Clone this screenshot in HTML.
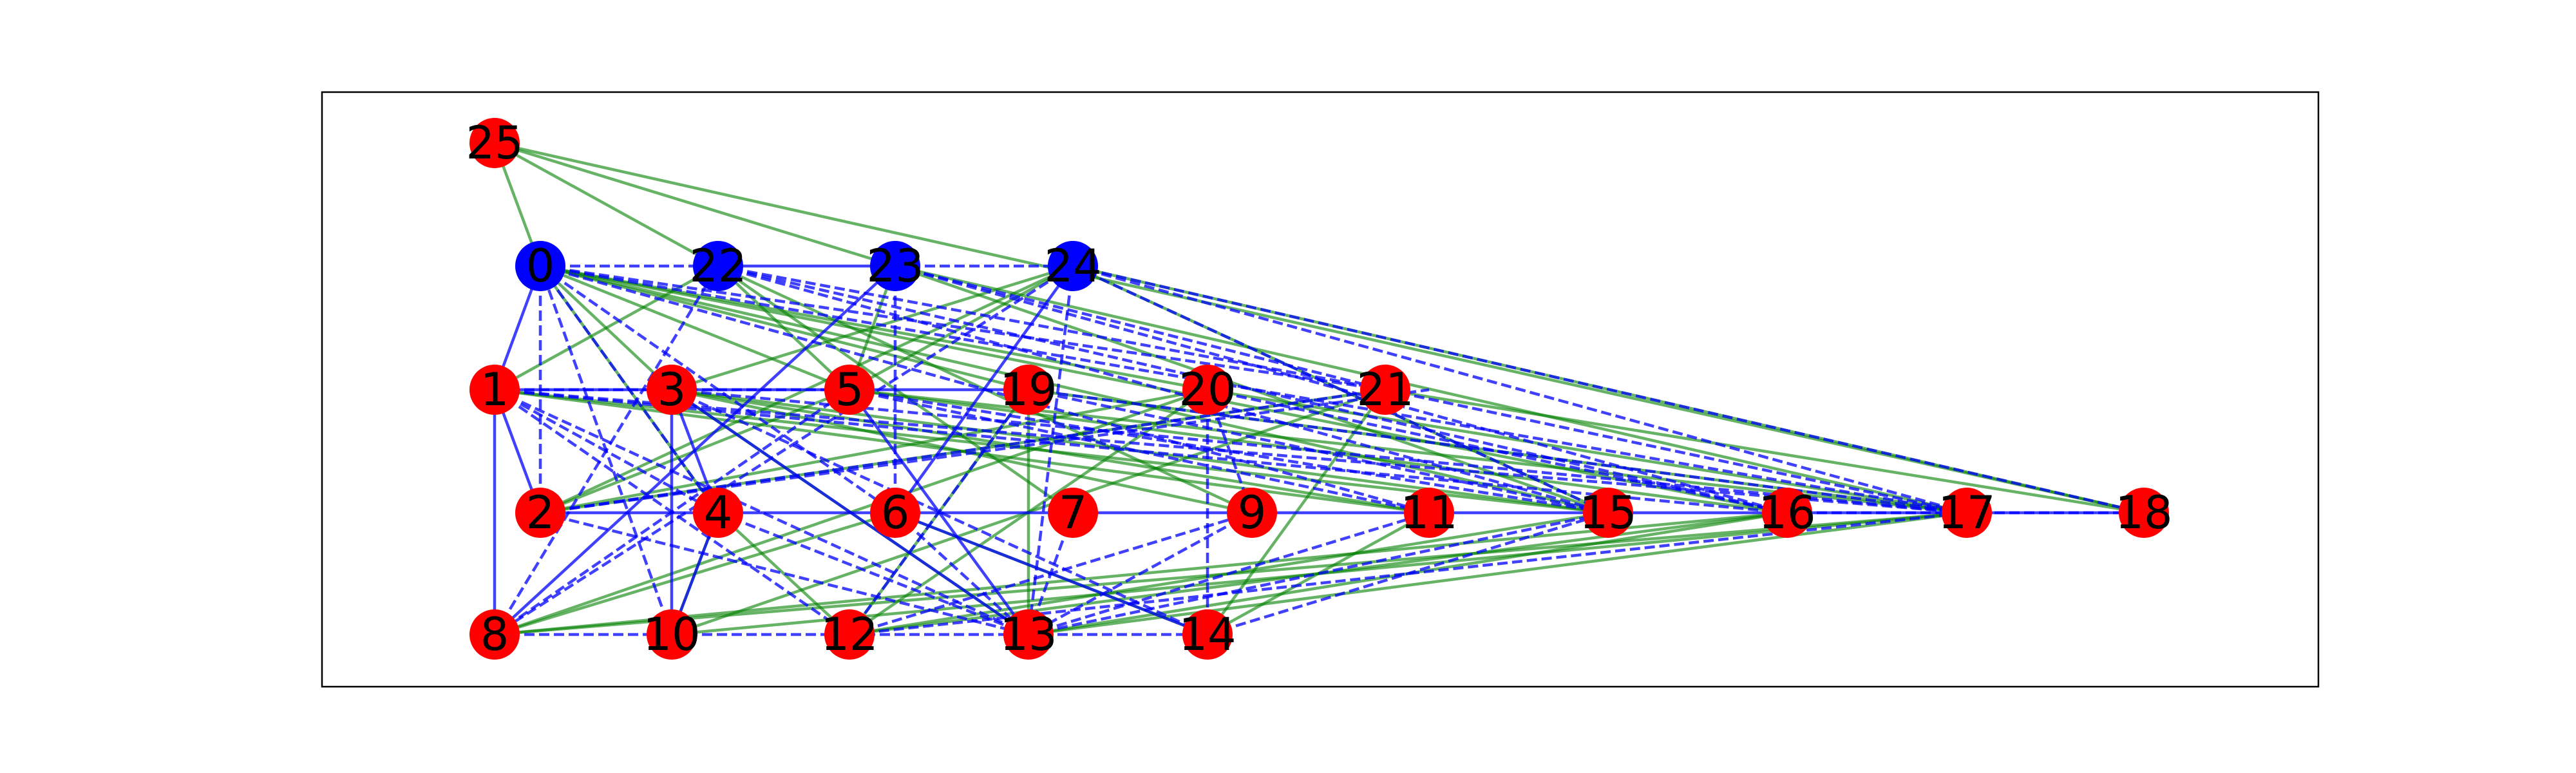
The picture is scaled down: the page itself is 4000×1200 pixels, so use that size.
<!DOCTYPE html>
<html><head><meta charset="utf-8"><style>
html,body{margin:0;padding:0;background:#fff;}
svg{display:block;}
text{font-family:"DejaVu Sans","Liberation Sans",sans-serif;font-size:70px;fill:#000;text-anchor:middle;dominant-baseline:central;}
.g{stroke:#008000;stroke-opacity:0.6;stroke-width:4.5;}
.b{stroke:#0000ff;stroke-opacity:0.75;stroke-width:4.5;}
.d{stroke:#0000ff;stroke-opacity:0.75;stroke-width:4.5;stroke-dasharray:16,7;}
</style></head><body>
<svg width="4000" height="1200" viewBox="0 0 4000 1200" xmlns="http://www.w3.org/2000/svg">
<rect x="0" y="0" width="4000" height="1200" fill="#fff"/>
<rect x="500" y="143" width="3100" height="923" fill="none" stroke="#000" stroke-width="2.5"/>
<g id="edges">
<line class="g" x1="768" y1="222" x2="1115" y2="413"/>
<line class="g" x1="768" y1="222" x2="1390" y2="413"/>
<line class="g" x1="768" y1="222" x2="3329" y2="796"/>
<line class="g" x1="768" y1="222" x2="839" y2="413"/>
<line class="g" x1="1666" y1="413" x2="3329" y2="796"/>
<line class="g" x1="839" y1="413" x2="1043" y2="605"/>
<line class="g" x1="839" y1="413" x2="1319" y2="605"/>
<line class="g" x1="839" y1="413" x2="1597" y2="605"/>
<line class="g" x1="839" y1="413" x2="1875" y2="605"/>
<line class="g" x1="839" y1="413" x2="2497" y2="796"/>
<line class="g" x1="839" y1="413" x2="2775" y2="796"/>
<line class="g" x1="1115" y1="413" x2="1319" y2="605"/>
<line class="g" x1="1115" y1="413" x2="1666" y2="796"/>
<line class="g" x1="1115" y1="413" x2="1944" y2="796"/>
<line class="g" x1="1390" y1="413" x2="2497" y2="796"/>
<line class="g" x1="1390" y1="413" x2="3054" y2="796"/>
<line class="g" x1="1390" y1="413" x2="1319" y2="605"/>
<line class="g" x1="1666" y1="413" x2="1043" y2="605"/>
<line class="g" x1="1666" y1="413" x2="1319" y2="605"/>
<line class="g" x1="1666" y1="413" x2="839" y2="796"/>
<line class="g" x1="768" y1="605" x2="1115" y2="413"/>
<line class="g" x1="768" y1="605" x2="2219" y2="796"/>
<line class="g" x1="768" y1="605" x2="2497" y2="796"/>
<line class="g" x1="1043" y1="605" x2="1944" y2="796"/>
<line class="g" x1="1043" y1="605" x2="2219" y2="796"/>
<line class="g" x1="1043" y1="605" x2="2497" y2="796"/>
<line class="g" x1="1319" y1="605" x2="2775" y2="796"/>
<line class="g" x1="1319" y1="605" x2="3054" y2="796"/>
<line class="g" x1="1597" y1="605" x2="1597" y2="985"/>
<line class="g" x1="1597" y1="605" x2="1319" y2="985"/>
<line class="g" x1="1875" y1="605" x2="1319" y2="985"/>
<line class="g" x1="1875" y1="605" x2="768" y2="985"/>
<line class="g" x1="2151" y1="605" x2="1043" y2="985"/>
<line class="g" x1="2151" y1="605" x2="1875" y2="985"/>
<line class="g" x1="2151" y1="605" x2="839" y2="796"/>
<line class="g" x1="768" y1="985" x2="3054" y2="796"/>
<line class="g" x1="768" y1="985" x2="2775" y2="796"/>
<line class="g" x1="768" y1="985" x2="1390" y2="796"/>
<line class="g" x1="1043" y1="985" x2="3054" y2="796"/>
<line class="g" x1="1043" y1="985" x2="1115" y2="796"/>
<line class="g" x1="1319" y1="985" x2="2497" y2="796"/>
<line class="g" x1="1319" y1="985" x2="2775" y2="796"/>
<line class="g" x1="1597" y1="985" x2="2775" y2="796"/>
<line class="g" x1="1597" y1="985" x2="3054" y2="796"/>
<line class="g" x1="1875" y1="985" x2="2219" y2="796"/>
<line class="g" x1="1390" y1="796" x2="1875" y2="985"/>
<line class="g" x1="1115" y1="796" x2="1319" y2="985"/>
<line class="g" x1="839" y1="796" x2="1319" y2="605"/>
<line class="g" x1="839" y1="796" x2="1875" y2="605"/>
<line class="g" x1="1043" y1="605" x2="1597" y2="985"/>
<line class="g" x1="1115" y1="796" x2="839" y2="413"/>
<line class="g" x1="1597" y1="605" x2="3054" y2="796"/>
<line class="g" x1="1875" y1="605" x2="3054" y2="796"/>
<line class="g" x1="2151" y1="605" x2="3329" y2="796"/>
<line class="g" x1="1666" y1="413" x2="2497" y2="796"/>
<line class="b" x1="1115" y1="413" x2="1390" y2="413"/>
<line class="b" x1="839" y1="796" x2="3329" y2="796"/>
<line class="b" x1="768" y1="605" x2="1043" y2="605"/>
<line class="b" x1="768" y1="605" x2="768" y2="985"/>
<line class="b" x1="768" y1="605" x2="839" y2="796"/>
<line class="b" x1="839" y1="413" x2="768" y2="605"/>
<line class="b" x1="1043" y1="605" x2="1115" y2="796"/>
<line class="b" x1="1043" y1="605" x2="1043" y2="985"/>
<line class="b" x1="1115" y1="796" x2="1043" y2="985"/>
<line class="b" x1="1390" y1="796" x2="1875" y2="985"/>
<line class="b" x1="1043" y1="605" x2="1597" y2="605"/>
<line class="b" x1="1390" y1="413" x2="768" y2="985"/>
<line class="b" x1="1666" y1="413" x2="1390" y2="796"/>
<line class="b" x1="1319" y1="605" x2="1597" y2="985"/>
<line class="b" x1="1043" y1="605" x2="1597" y2="985"/>
<line class="d" x1="839" y1="413" x2="1115" y2="413"/>
<line class="d" x1="1390" y1="413" x2="1666" y2="413"/>
<line class="d" x1="839" y1="413" x2="1115" y2="796"/>
<line class="d" x1="839" y1="413" x2="1390" y2="796"/>
<line class="d" x1="839" y1="413" x2="2219" y2="796"/>
<line class="d" x1="839" y1="413" x2="2151" y2="605"/>
<line class="d" x1="839" y1="413" x2="3054" y2="796"/>
<line class="d" x1="839" y1="413" x2="839" y2="796"/>
<line class="d" x1="1115" y1="413" x2="2497" y2="796"/>
<line class="d" x1="1115" y1="413" x2="2775" y2="796"/>
<line class="d" x1="1115" y1="413" x2="2151" y2="605"/>
<line class="d" x1="1390" y1="413" x2="2775" y2="796"/>
<line class="d" x1="1390" y1="413" x2="2151" y2="605"/>
<line class="d" x1="1390" y1="413" x2="1390" y2="796"/>
<line class="d" x1="1666" y1="413" x2="2497" y2="796"/>
<line class="d" x1="1666" y1="413" x2="3054" y2="796"/>
<line class="d" x1="1666" y1="413" x2="1597" y2="985"/>
<line class="d" x1="1666" y1="413" x2="768" y2="985"/>
<line class="d" x1="768" y1="605" x2="1115" y2="796"/>
<line class="d" x1="768" y1="605" x2="1319" y2="605"/>
<line class="d" x1="768" y1="605" x2="1597" y2="985"/>
<line class="d" x1="768" y1="605" x2="3054" y2="796"/>
<line class="d" x1="768" y1="605" x2="2775" y2="796"/>
<line class="d" x1="839" y1="796" x2="1597" y2="985"/>
<line class="d" x1="839" y1="796" x2="2219" y2="605"/>
<line class="d" x1="839" y1="796" x2="2151" y2="605"/>
<line class="d" x1="1043" y1="605" x2="3054" y2="796"/>
<line class="d" x1="1319" y1="605" x2="2497" y2="796"/>
<line class="d" x1="1319" y1="605" x2="2219" y2="796"/>
<line class="d" x1="1597" y1="605" x2="3054" y2="796"/>
<line class="d" x1="1597" y1="605" x2="2497" y2="796"/>
<line class="d" x1="1875" y1="605" x2="2775" y2="796"/>
<line class="d" x1="2151" y1="605" x2="3054" y2="796"/>
<line class="d" x1="768" y1="985" x2="1875" y2="985"/>
<line class="d" x1="768" y1="985" x2="1115" y2="413"/>
<line class="d" x1="768" y1="985" x2="1319" y2="605"/>
<line class="d" x1="1043" y1="985" x2="839" y2="413"/>
<line class="d" x1="1319" y1="985" x2="1944" y2="796"/>
<line class="d" x1="1597" y1="985" x2="2219" y2="796"/>
<line class="d" x1="1597" y1="985" x2="2497" y2="796"/>
<line class="d" x1="1875" y1="985" x2="2497" y2="796"/>
<line class="d" x1="1319" y1="985" x2="3054" y2="796"/>
<line class="d" x1="1115" y1="796" x2="1597" y2="985"/>
<line class="d" x1="1043" y1="605" x2="1875" y2="985"/>
<line class="d" x1="1390" y1="796" x2="1597" y2="985"/>
<line class="d" x1="1666" y1="796" x2="1597" y2="985"/>
<line class="d" x1="1944" y1="796" x2="1597" y2="985"/>
<line class="d" x1="1875" y1="605" x2="1944" y2="796"/>
<line class="d" x1="1597" y1="605" x2="1319" y2="985"/>
<line class="d" x1="2775" y1="796" x2="3329" y2="796"/>
<line class="d" x1="1666" y1="413" x2="3329" y2="796"/>
<line class="d" x1="1875" y1="605" x2="1875" y2="985"/>
<line class="d" x1="768" y1="605" x2="1319" y2="985"/>
</g>
<g id="nodes">
<circle cx="768" cy="222" r="39" fill="#f00"/>
<circle cx="839" cy="413" r="39" fill="#00f"/>
<circle cx="1115" cy="413" r="39" fill="#00f"/>
<circle cx="1390" cy="413" r="39" fill="#00f"/>
<circle cx="1666" cy="413" r="39" fill="#00f"/>
<circle cx="768" cy="605" r="39" fill="#f00"/>
<circle cx="1043" cy="605" r="39" fill="#f00"/>
<circle cx="1319" cy="605" r="39" fill="#f00"/>
<circle cx="1597" cy="605" r="39" fill="#f00"/>
<circle cx="1875" cy="605" r="39" fill="#f00"/>
<circle cx="2151" cy="605" r="39" fill="#f00"/>
<circle cx="839" cy="796" r="39" fill="#f00"/>
<circle cx="1115" cy="796" r="39" fill="#f00"/>
<circle cx="1390" cy="796" r="39" fill="#f00"/>
<circle cx="1666" cy="796" r="39" fill="#f00"/>
<circle cx="1944" cy="796" r="39" fill="#f00"/>
<circle cx="2219" cy="796" r="39" fill="#f00"/>
<circle cx="2497" cy="796" r="39" fill="#f00"/>
<circle cx="2775" cy="796" r="39" fill="#f00"/>
<circle cx="3054" cy="796" r="39" fill="#f00"/>
<circle cx="3329" cy="796" r="39" fill="#f00"/>
<circle cx="768" cy="985" r="39" fill="#f00"/>
<circle cx="1043" cy="985" r="39" fill="#f00"/>
<circle cx="1319" cy="985" r="39" fill="#f00"/>
<circle cx="1597" cy="985" r="39" fill="#f00"/>
<circle cx="1875" cy="985" r="39" fill="#f00"/>
</g>
<g id="labels">
<text x="768" y="222">25</text>
<text x="839" y="413">0</text>
<text x="1115" y="413">22</text>
<text x="1390" y="413">23</text>
<text x="1666" y="413">24</text>
<text x="768" y="605">1</text>
<text x="1043" y="605">3</text>
<text x="1319" y="605">5</text>
<text x="1597" y="605">19</text>
<text x="1875" y="605">20</text>
<text x="2151" y="605">21</text>
<text x="839" y="796">2</text>
<text x="1115" y="796">4</text>
<text x="1390" y="796">6</text>
<text x="1666" y="796">7</text>
<text x="1944" y="796">9</text>
<text x="2219" y="796">11</text>
<text x="2497" y="796">15</text>
<text x="2775" y="796">16</text>
<text x="3054" y="796">17</text>
<text x="3329" y="796">18</text>
<text x="768" y="985">8</text>
<text x="1043" y="985">10</text>
<text x="1319" y="985">12</text>
<text x="1597" y="985">13</text>
<text x="1875" y="985">14</text>
</g>
</svg>
</body></html>
